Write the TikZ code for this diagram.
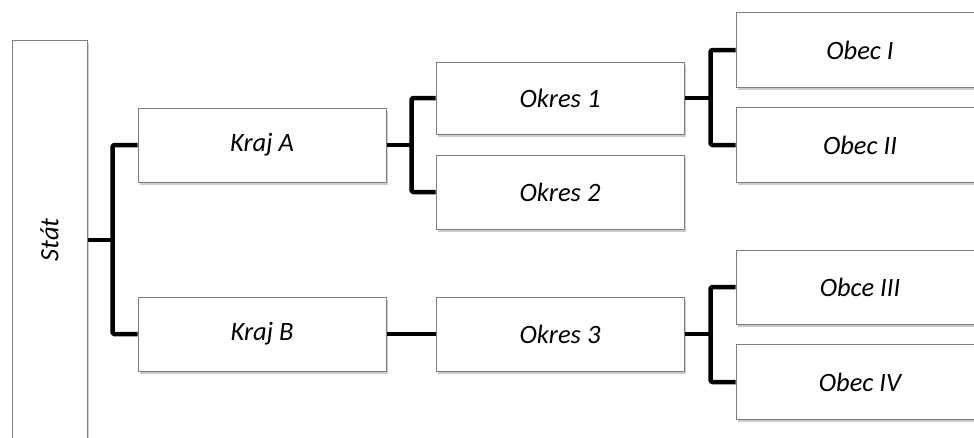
\documentclass[tikz,border=0pt]{standalone}
\usepackage{fontspec}
\setmainfont{Carlito}
\usetikzlibrary{shadows}
\definecolor{boxline}{RGB}{125,125,125}
\tikzset{
  box/.style={draw=boxline, line width=1pt, fill=white, minimum width=248pt, minimum height=74pt,
    inner sep=0pt, font=\fontsize{26.5}{30}\selectfont\itshape,
    drop shadow={shadow xshift=1.5pt, shadow yshift=-2.5pt, opacity=0.4, fill=gray}},
  conn/.style={line width=4.5pt, black, line join=round, rounded corners=1.5pt}
}
\begin{document}
\begin{tikzpicture}[x=1pt,y=-1pt]
\clip (0,0) rectangle (974,437);
\fill[white] (0,0) rectangle (974,437);
\node[box, minimum width=75pt, minimum height=400pt] (stat) at (49.5,240) {};
\node[rotate=90, font=\fontsize{26.5}{30}\selectfont\itshape] (statt) at (stat.center) {Stát};
\node[box] (kA) at (262,145) {Kraj A};
\node[box] (kB) at (262,334) {Kraj B};
\node[box, minimum height=72pt] (o1) at (560,98) {Okres 1};
\node[box] (o2) at (560,192) {Okres 2};
\node[box] (o3) at (560,334) {Okres 3};
\node[box, minimum height=75pt] (ob1) at (860,50) {Obec I};
\node[box, minimum height=75pt] (ob2) at (860,145) {Obec II};
\node[box, minimum height=74pt] (ob3) at (860,287) {Obce III};
\node[box, minimum height=75pt] (ob4) at (860,382) {Obec IV};
% connectors
\draw[conn] (kA.west) -- ++(-25,0) coordinate (ja) |- (kB.west);
\draw[conn] (stat.east) -- (stat.east -| ja);
\draw[conn] (o1.west) -- ++(-24,0) coordinate (jb) |- (o2.west);
\draw[conn] (kA.east) -- (kA.east -| jb);
\draw[conn] (kB.east) -- (o3.west);
\draw[conn] (ob1.west) -- ++(-25,0) coordinate (jc) |- (ob2.west);
\draw[conn] (o1.east) -- (o1.east -| jc);
\draw[conn] (ob3.west) -- ++(-25,0) coordinate (jd) |- (ob4.west);
\draw[conn] (o3.east) -- (o3.east -| jd);
\end{tikzpicture}
\end{document}
